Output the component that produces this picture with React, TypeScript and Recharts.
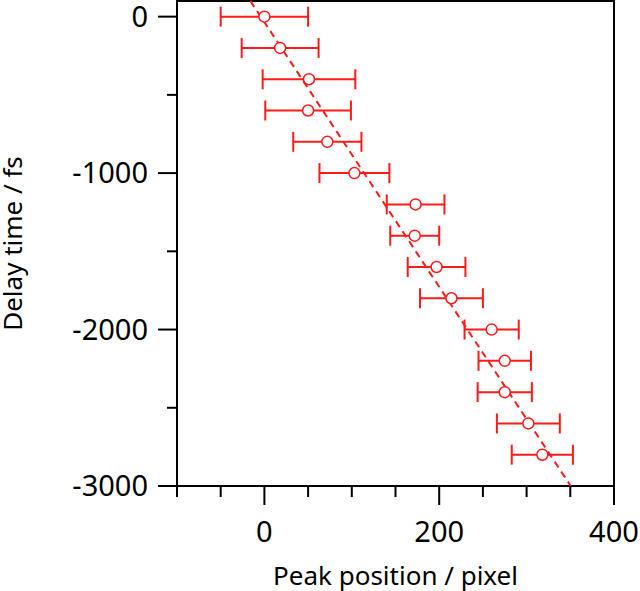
import React from 'react';
import { ScatterChart, Scatter, XAxis, YAxis, ErrorBar, ReferenceLine, ReferenceArea } from 'recharts';

// Data
const delays = [0, -200, -400, -600, -800, -1000, -1200, -1400, -1600, -1800, -2000, -2200, -2400, -2600, -2800];
const peaks = [0, 18, 51, 50, 72, 103, 173, 172, 197, 214, 260, 275, 275, 302, 318];
const errors = [50, 44, 53, 49, 39, 40, 33, 28, 33, 36, 31, 30, 31, 36, 35];

// Dashed linear fit end points (peak position, delay)
const fitX = [-16, 350.5];
const fitY = [100, -3000];

const xTicks = [-100, -50, 0, 50, 100, 150, 200, 250, 300, 350, 400];
const yTicks = [-3000, -2500, -2000, -1500, -1000, -500, 0];

const RED = '#ff1a1a';
const FONT = '"Noto Sans", sans-serif';

const data = delays.map((d, i) => ({ x: peaks[i], y: d, err: errors[i] }));

const XTick = (props: any) => {
  const { x, y, payload } = props;
  const v = payload.value;
  const major = v % 200 === 0;
  return (
    <g>
      <line x1={x} x2={x} y1={y} y2={y + (major ? 19 : 11)} stroke="#000" strokeWidth={2} />
      {major && (
        <text x={x} y={y + 56} textAnchor="middle" fontSize={29} fontFamily={FONT} fill="#000">
          {v}
        </text>
      )}
    </g>
  );
};

const YTick = (props: any) => {
  const { x, y, payload } = props;
  const v = payload.value;
  const major = v % 1000 === 0;
  return (
    <g>
      <line x1={x - (major ? 19 : 10)} x2={x} y1={y} y2={y} stroke="#000" strokeWidth={2} />
      {major && (
        <text x={x - 29} y={y + 10} textAnchor="end" fontSize={29} fontFamily={FONT} fill="#000">
          {v}
        </text>
      )}
    </g>
  );
};

const Marker = (props: any) => {
  const { cx, cy } = props;
  return <circle cx={cx} cy={cy} r={5.5} fill="#fff" stroke={RED} strokeWidth={1.5} />;
};

export default function App() {
  return (
    <div style={{ position: 'absolute', left: 0, top: 0, background: '#fff' }}>
      <ScatterChart width={640} height={591} margin={{ top: 1, right: 26, bottom: 0, left: 0 }}>
        <XAxis
          type="number"
          dataKey="x"
          domain={[-100, 400]}
          ticks={xTicks}
          interval={0}
          allowDataOverflow
          height={105}
          tickSize={0}
          tickMargin={0}
          axisLine={false}
          tick={<XTick />}
          label={{
            value: 'Peak position / pixel',
            position: 'insideBottom',
            offset: 6,
            style: { fontSize: 26, fill: '#000', fontFamily: FONT },
          }}
        />
        <YAxis
          type="number"
          dataKey="y"
          domain={[-3000, 100]}
          ticks={yTicks}
          interval={0}
          allowDataOverflow
          width={177}
          tickSize={0}
          tickMargin={0}
          axisLine={false}
          tick={<YTick />}
          label={{
            value: 'Delay time / fs',
            angle: -90,
            position: 'insideLeft',
            offset: 13,
            style: { fontSize: 26, fill: '#000', fontFamily: FONT, textAnchor: 'middle' },
          }}
        />
        <ReferenceArea
          x1={-100}
          x2={400}
          y1={-3000}
          y2={100}
          fill="none"
          fillOpacity={0}
          stroke="#000"
          strokeWidth={2}
          ifOverflow="visible"
        />
        <ReferenceLine
          segment={[
            { x: fitX[0], y: fitY[0] },
            { x: fitX[1], y: fitY[1] },
          ]}
          stroke={RED}
          strokeWidth={2}
          strokeDasharray="7 5"
          ifOverflow="visible"
        />
        <Scatter data={data} shape={<Marker />} isAnimationActive={false}>
          <ErrorBar dataKey="err" direction="x" width={10} stroke={RED} strokeWidth={2} />
        </Scatter>
      </ScatterChart>
    </div>
  );
}
